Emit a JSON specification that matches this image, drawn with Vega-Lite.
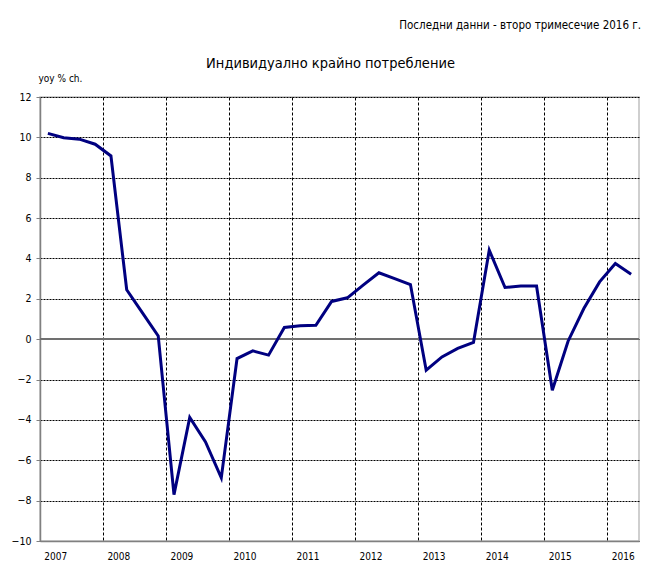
{
  "$schema": "https://vega.github.io/schema/vega-lite/v6.json",
  "width": 599,
  "height": 444,
  "autosize": {"type": "none"},
  "padding": {"left": 40, "top": 97, "right": 13, "bottom": 29},
  "background": "#ffffff",
  "config": {
    "font": "DejaVu Sans Condensed, Liberation Sans Narrow, sans-serif",
    "view": {"stroke": "#c0c0c0", "strokeWidth": 1.5}
  },
  "title": {
    "text": "Последни данни - второ тримесечие 2016 г.",
    "anchor": "end",
    "frame": "group",
    "fontSize": 11.5,
    "fontWeight": "normal",
    "color": "#000000",
    "dx": 2,
    "dy": -20
  },
  "data": {
    "values": [
      {"q": "2007Q1", "v": 10.2}, {"q": "2007Q2", "v": 9.98}, {"q": "2007Q3", "v": 9.91}, {"q": "2007Q4", "v": 9.66},
      {"q": "2008Q1", "v": 9.08}, {"q": "2008Q2", "v": 2.45}, {"q": "2008Q3", "v": 1.3}, {"q": "2008Q4", "v": 0.16},
      {"q": "2009Q1", "v": -7.7}, {"q": "2009Q2", "v": -3.88}, {"q": "2009Q3", "v": -5.09}, {"q": "2009Q4", "v": -6.87},
      {"q": "2010Q1", "v": -0.96}, {"q": "2010Q2", "v": -0.58}, {"q": "2010Q3", "v": -0.79}, {"q": "2010Q4", "v": 0.58},
      {"q": "2011Q1", "v": 0.66}, {"q": "2011Q2", "v": 0.69}, {"q": "2011Q3", "v": 1.87}, {"q": "2011Q4", "v": 2.05},
      {"q": "2012Q1", "v": 2.68}, {"q": "2012Q2", "v": 3.29}, {"q": "2012Q3", "v": 3.0}, {"q": "2012Q4", "v": 2.71},
      {"q": "2013Q1", "v": -1.54}, {"q": "2013Q2", "v": -0.88}, {"q": "2013Q3", "v": -0.46}, {"q": "2013Q4", "v": -0.16},
      {"q": "2014Q1", "v": 4.41}, {"q": "2014Q2", "v": 2.56}, {"q": "2014Q3", "v": 2.63}, {"q": "2014Q4", "v": 2.63},
      {"q": "2015Q1", "v": -2.53}, {"q": "2015Q2", "v": -0.1}, {"q": "2015Q3", "v": 1.52}, {"q": "2015Q4", "v": 2.84},
      {"q": "2016Q1", "v": 3.75}, {"q": "2016Q2", "v": 3.22}
    ]
  },
  "resolve": {"axis": {"x": "independent"}},
  "layer": [
    {
      "mark": {"type": "rule", "color": "#707070", "strokeWidth": 1.5},
      "encoding": {"y": {"datum": 0, "type": "quantitative"}}
    },
    {
      "mark": {"type": "line", "color": "#000080", "strokeWidth": 3, "strokeJoin": "miter"},
      "encoding": {
        "x": {
          "field": "q",
          "type": "ordinal",
          "bandPosition": 0.5,
          "sort": null,
          "scale": {"type": "band", "paddingInner": 0, "paddingOuter": 0},
          "axis": {
            "orient": "bottom",
            "title": null,
            "values": ["2007Q1", "2008Q1", "2009Q1", "2010Q1", "2011Q1", "2012Q1", "2013Q1", "2014Q1", "2015Q1", "2016Q1"],
            "bandPosition": 0,
            "labelExpr": "substring(datum.value, 0, 4)",
            "labelOffset": 7.9,
            "labelAngle": 0,
            "labelAlign": "center",
            "labelFontSize": 10,
            "labelColor": "#000000",
            "labelPadding": 10,
            "ticks": false,
            "domainColor": "#808080",
            "domainWidth": 1.5,
            "grid": true,
            "gridColor": "#000000",
            "gridDash": [3, 2],
            "gridWidth": 1,
            "gridOpacity": 1
          }
        },
        "y": {
          "field": "v",
          "type": "quantitative",
          "scale": {"domain": [-10, 12], "nice": false, "zero": false},
          "axis": {
            "values": [-10, -8, -6, -4, -2, 0, 2, 4, 6, 8, 10, 12],
            "title": "yoy % ch.",
            "titleAngle": 0,
            "titleAlign": "left",
            "titleBaseline": "alphabetic",
            "titleX": -2,
            "titleY": -16,
            "titleFontSize": 10,
            "titleFontWeight": "normal",
            "titleColor": "#000000",
            "labelFontSize": 10.5,
            "labelColor": "#000000",
            "labelPadding": 5,
            "tickSize": 4,
            "tickColor": "#808080",
            "domainColor": "#808080",
            "domainWidth": 1.5,
            "grid": true,
            "gridColor": "#000000",
            "gridDash": [2, 1],
            "gridWidth": 1,
            "gridOpacity": 1
          }
        }
      }
    },
    {
      "mark": {"type": "line", "strokeOpacity": 0},
      "encoding": {
        "x": {
          "field": "q",
          "type": "ordinal",
          "bandPosition": 0.5,
          "sort": null,
          "axis": {
            "orient": "top",
            "title": "Индивидуално крайно потребление",
            "titleX": 290,
            "titleY": -30,
            "titleAlign": "center",
            "titleBaseline": "alphabetic",
            "titleFontSize": 14.5,
            "titleFontWeight": "normal",
            "titleColor": "#000000",
            "labels": false,
            "ticks": false,
            "domain": false,
            "grid": false
          }
        },
        "y": {"field": "v", "type": "quantitative"}
      }
    }
  ]
}
